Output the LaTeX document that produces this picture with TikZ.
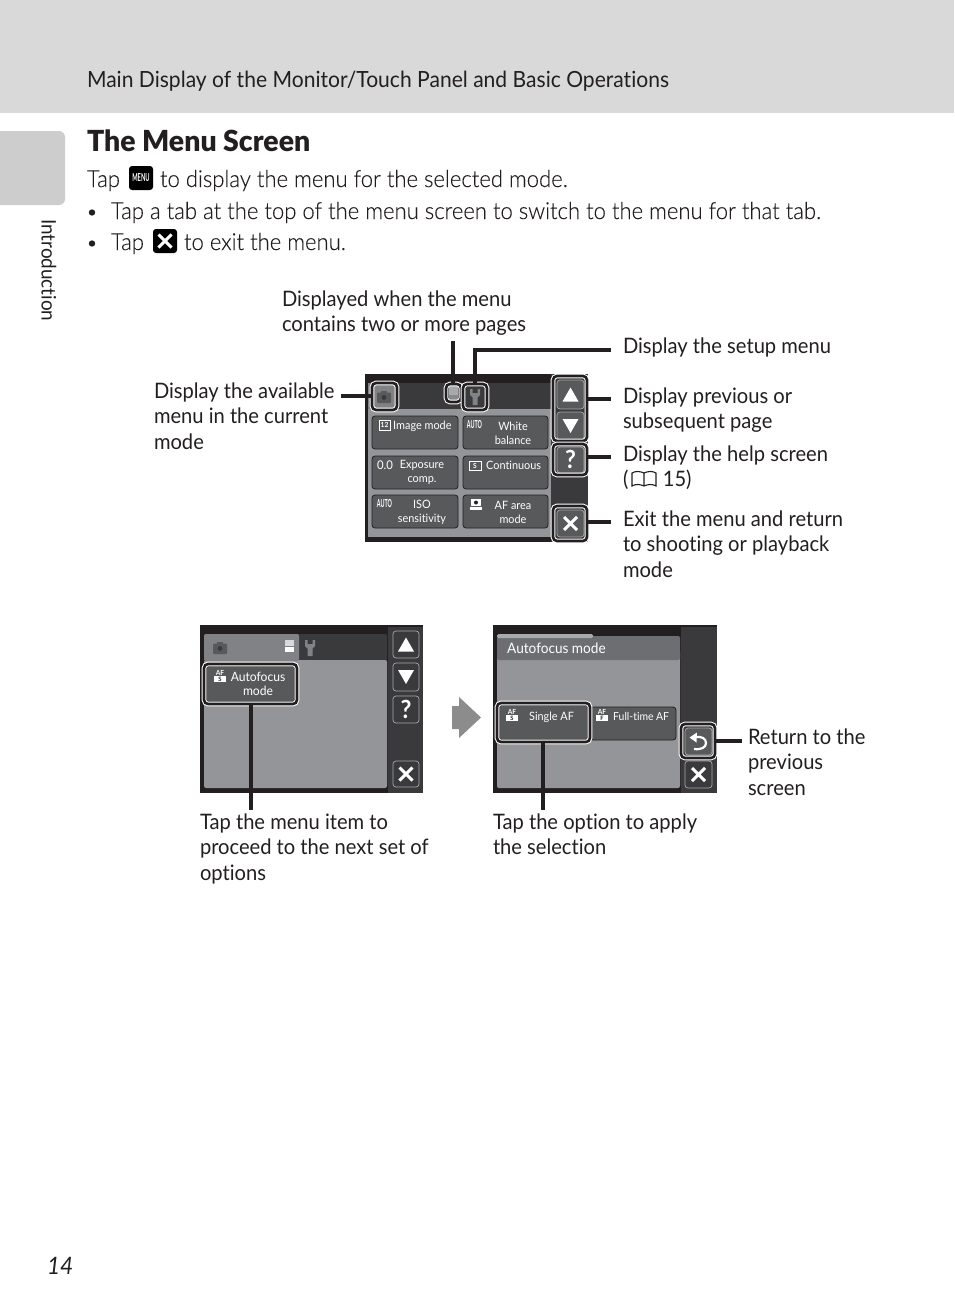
\documentclass[tikz,border=0pt]{standalone}
\usepackage{graphicx}
\usepackage{fontspec}
\setmainfont{Lato}[FakeStretch=0.945,Ligatures=NoCommon]
\newfontfamily\lightfont{Lato Light}[FakeStretch=0.943,FakeBold=0.15,Ligatures=NoCommon]
\newfontfamily\titlefont{Lato Black}[FakeStretch=0.98,Ligatures=NoCommon]
\definecolor{ink}{HTML}{231F20}
\definecolor{panel}{HTML}{939598}
\definecolor{darkcol}{HTML}{3A3A3C}
\definecolor{btnfill}{HTML}{58595B}
\definecolor{tabgray}{HTML}{808285}
\definecolor{bandgray}{HTML}{6D6E71}
\definecolor{headgray}{HTML}{D9D9D9}
\definecolor{sidegray}{HTML}{CDCDCD}
\definecolor{btnedge}{HTML}{A7A9AC}
\newcommand{\rbx}[6]{\node[#1,rectangle,inner sep=0pt,outer sep=0pt,anchor=north west,minimum width={(#5-#3)*1pt},minimum height={(#6-#4)*1pt}] (#2) at (#3,#4) {};}
\newcommand{\lab}[4]{\node[lab] (#1) at (#2,#3-15.3) {\rule{0pt}{16pt}#4};}
\newcommand{\tri}[4]{\fill[white] (#1-#3,#2-#4) -- (#1+#3,#2-#4) -- (#1,#2+#4) -- cycle;}
\newcommand{\xmark}[3]{\draw[white,line width=#3pt] (#1-6.5,#2-6.5) -- (#1+6.5,#2+6.5) (#1+6.5,#2-6.5) -- (#1-6.5,#2+6.5);}
\newcommand{\camera}[3]{\fill[#3,rounded corners=1pt] (#1-7,#2-4.5) rectangle (#1+7,#2+6); \fill[#3] (#1-3,#2-6.5) rectangle (#1+3,#2-3); \fill[darkcol] (#1,#2+.5) circle (2.4);}
\newcommand{\wrench}[3]{\fill[#3] (#1-5,#2-8) -- (#1-2.5,#2-8) -- (#1-2.5,#2-4) -- (#1+2.5,#2-4) -- (#1+2.5,#2-8) -- (#1+5,#2-8) -- (#1+5,#2-2) -- (#1+2.5,#2+.5) -- (#1+2.5,#2+8) -- (#1-2.5,#2+8) -- (#1-2.5,#2+.5) -- (#1-5,#2-2) -- cycle;}
\newcommand{\aficon}[3]{\node[tiny txt] at (#1,#2-3.5) {\fontsize{7}{7}\selectfont\bfseries AF}; \fill[white] (#1-6,#2) rectangle (#1+6,#2+6); \node[tiny txt,text=ink] at (#1,#2+3) {\fontsize{6}{6}\selectfont\bfseries #3};}
\newcommand{\autoic}{\scalebox{.52}[1]{\bfseries AUTO}}
\tikzset{x=1pt,y=-1pt,
 lab/.style={anchor=north west,align=left,inner sep=0pt,outer sep=0pt,text=ink,font=\fontsize{21.3}{25.2}\selectfont},
 body/.style={anchor=base west,inner sep=0pt,outer sep=0pt,text=ink,font=\lightfont\fontsize{23.4}{28}\selectfont},
 btxt/.style={text=white,inner sep=0pt,align=center,font=\fontsize{11.5}{14}\selectfont},
 tiny txt/.style={text=white,inner sep=0pt},
 mbtn/.style={fill=btnfill,draw=ink,line width=.8pt,rounded corners=3pt},
 sbtn/.style={fill=darkcol,draw=btnedge,line width=.7pt,rounded corners=3pt},
 hframe/.style={draw=ink,line width=2.6pt,rounded corners=4pt,preaction={draw=white,line width=4.6pt}},
 conn/.style={draw=ink,line width=3.2pt},
}
\begin{document}
\begin{tikzpicture}
\useasboundingbox (0,0) rectangle (954,1314);
\fill[white] (0,0) rectangle (954,1314);
% page furniture
\rbx{fill=headgray}{head}{0}{0}{954}{113}
\fill[sidegray,rounded corners=6pt] (-10,131) rectangle (65,205);
\node[body,font=\fontsize{22.3}{26}\selectfont] (headtxt) at (87,87) {Main Display of the Monitor/Touch Panel and Basic Operations};
\node[body,font=\titlefont\fontsize{29}{32}\selectfont] (title) at (87,151) {The Menu Screen};
\node[body] (t1) at (87,187) {Tap};
\rbx{fill=black,rounded corners=3pt}{menuic}{129}{166}{153}{190}
\node[tiny txt,font=\bfseries\fontsize{11}{11}\selectfont] (menut) at (141,178) {\scalebox{.55}[1]{MENU}};
\node[body] (t2) at (160,187) {to display the menu for the selected mode.};
\fill[ink] (92,212.5) circle (3.2);
\node[body] (t3) at (111,219) {Tap a tab at the top of the menu screen to switch to the menu for that tab.};
\fill[ink] (92,243.5) circle (3.2);
\node[body] (t4) at (111,250) {Tap};
\rbx{fill=black,rounded corners=3pt}{xic}{153}{229}{177}{253}
\xmark{165}{241}{3}
\node[body] (t5) at (184,250) {to exit the menu.};
\node[text=ink,inner sep=0pt,rotate=-90,anchor=west,font=\fontsize{20}{22}\selectfont] (side) at (49,219) {Introduction};
\node[body,font=\itshape\fontsize{24}{28}\selectfont] (pg) at (47,1274) {14};

% main screen
\rbx{fill=ink}{scr}{365}{374}{588}{542}
\rbx{fill=panel}{panA}{368}{409}{551}{537}
\rbx{fill=darkcol}{tabsA}{368}{383}{551}{409}
\rbx{fill=tabgray}{camA}{368}{383}{398}{409}
\rbx{fill=darkcol}{colA}{551}{374}{588}{542}
\rbx{mbtn}{b1}{372}{416}{458}{449}
\rbx{mbtn}{b2}{463}{416}{548}{449}
\rbx{mbtn}{b3}{372}{456}{458}{489}
\rbx{mbtn}{b4}{463}{456}{548}{489}
\rbx{mbtn}{b5}{372}{495}{458}{528}
\rbx{mbtn}{b6}{463}{495}{548}{528}
\node[btxt,anchor=west] (b1t) at (393,426) {Image mode};
\rbx{draw=white,line width=.8pt}{b1i}{379}{420}{390}{430}
\node[tiny txt,font=\bfseries\fontsize{7}{7}\selectfont] (b1n) at (384.5,425) {12};
\node[btxt] (b2t) at (513,433) {White\\balance};
\node[tiny txt,font=\fontsize{11}{11}\selectfont] (b2n) at (474.5,425) {\autoic};
\node[btxt] (b3t) at (422,472) {Exposure\\comp.};
\node[tiny txt,font=\fontsize{12}{12}\selectfont] (b3n) at (385,465) {0.0};
\node[btxt,anchor=west] (b4t) at (486,465) {Continuous};
\rbx{draw=white,line width=.8pt}{b4i}{469}{461}{481}{470}
\node[tiny txt,font=\bfseries\fontsize{7}{7}\selectfont] (b4n) at (475,465.5) {S};
\node[btxt] (b5t) at (422,512) {ISO\\sensitivity};
\node[tiny txt,font=\fontsize{11}{11}\selectfont] (b5n) at (384.5,504) {\autoic};
\node[btxt] (b6t) at (513,512) {AF area\\mode};
\fill[white] (471,499) rectangle (481,506);
\fill[white] (470,507) rectangle (482,510);
\fill[ink] (476,502.5) circle (2);
\camera{384}{397}{btnfill}
\fill[btnedge] (449,385) rectangle (458,395);
\fill[darkcol!60!white] (449,395) rectangle (458,400);
\wrench{475}{397}{tabgray}
\rbx{sbtn,fill=btnfill}{upA}{557}{380}{584}{409}
\tri{570.5}{394.5}{8}{-7}
\rbx{sbtn,fill=btnfill}{dnA}{557}{412}{584}{440}
\tri{570.5}{426}{8}{7}
\rbx{sbtn,fill=btnfill}{qA}{557}{447}{584}{473}
\node[tiny txt,font=\bfseries\fontsize{25}{25}\selectfont] (qAt) at (570.5,459.5) {?};
\rbx{sbtn,fill=btnfill}{xA}{557}{510}{584}{537}
\xmark{570.5}{523.5}{3}
% highlight frames
\rbx{hframe}{fCam}{372}{383}{397}{410}
\rbx{hframe}{fPg}{446}{384}{461}{402}
\rbx{hframe}{fWr}{463}{384}{487}{410}
\rbx{hframe}{fUD}{553}{376}{587}{441}
\rbx{hframe}{fQ}{553}{444}{587}{475}
\rbx{hframe}{fX}{553}{506}{587}{541}
% connectors main
\coordinate (cCam) at (341,396);
\coordinate (cPg) at (453,341);
\coordinate (cWrK) at (475,350);
\coordinate (cWr) at (611,350);
\coordinate (cUD) at (611,399);
\coordinate (cQ) at (611,457);
\coordinate (cX) at (611,522);
\draw[conn] (cCam) -- (fCam.west |- cCam);
\draw[conn] (cPg) -- (fPg.north -| cPg);
\draw[conn] (fWr.north -| cWrK) -- (cWrK) -- (cWr);
\draw[conn] (fUD.east |- cUD) -- (cUD);
\draw[conn] (fQ.east |- cQ) -- (cQ);
\draw[conn] (fX.east |- cX) -- (cX);
% labels main
\lab{l1}{282}{306}{Displayed when the menu\\contains two or more pages}
\lab{l2}{623}{353}{Display the setup menu}
\lab{l3}{154}{398}{Display the available\\menu in the current\\mode}
\lab{l4}{623}{403}{Display previous or\\subsequent page}
\lab{l5}{623}{461}{Display the help screen\\(\hspace{34.5pt}15)}
\draw[ink,line width=1.1pt] (644,473) .. controls (640,471) and (635,471) .. (632,473) -- (632,486) .. controls (635,484) and (640,484) .. (644,486) .. controls (648,484) and (653,484) .. (656,486) -- (656,473) .. controls (653,471) and (648,471) .. (644,473) -- (644,486);
\lab{l6}{623}{526}{Exit the menu and return\\to shooting or playback\\mode}

% left lower screen
\rbx{fill=ink}{scrB}{200}{625}{423}{793}
\rbx{fill=darkcol}{colB}{388}{627}{423}{793}
\rbx{fill=darkcol,rounded corners=2pt}{tabsB}{204}{634}{387}{665}
\rbx{fill=panel,rounded corners=2pt}{panB}{204}{660}{387}{788}
\rbx{fill=tabgray,rounded corners=2pt}{tabB}{204}{634}{299}{661}
\camera{220}{648}{btnfill}
\fill[white!85!black] (285,640) rectangle (294,646);
\fill[white] (285,647) rectangle (294,652);
\wrench{310}{648}{tabgray}
\rbx{sbtn}{upB}{393}{631}{419}{658}
\tri{406}{644.5}{8}{-7}
\rbx{sbtn}{dnB}{393}{663}{419}{691}
\tri{406}{677}{8}{7}
\rbx{sbtn}{qB}{393}{696}{419}{723}
\node[tiny txt,font=\bfseries\fontsize{25}{25}\selectfont] (qBt) at (406,709.5) {?};
\rbx{sbtn}{xB}{393}{761}{419}{787}
\xmark{406}{774}{3}
\rbx{mbtn}{itemB}{206}{666}{295}{702}
\node[btxt,font=\fontsize{12.8}{14.5}\selectfont,anchor=center] (itemBt) at (258,684) {Autofocus\\mode};
\aficon{220}{676}{S}
\rbx{hframe}{fItem}{204}{664}{297}{704}
\coordinate (cItem) at (251,810);
\draw[conn] (fItem.south -| cItem) -- (cItem);

% arrow
\fill[black!45,rounded corners=.3pt] (452,706) -- (459,706) -- (459,697) -- (481,717.5) -- (459,738) -- (459,729) -- (452,729) -- cycle;

% right lower screen
\rbx{fill=ink}{scrC}{493}{625}{717}{793}
\rbx{fill=darkcol}{colC}{681}{627}{717}{793}
\rbx{fill=panel,rounded corners=2pt}{panC}{497}{650}{680}{788}
\rbx{fill=bandgray,rounded corners=2pt}{bandC}{497}{636}{680}{660}
\rbx{fill=btnedge,rounded corners=1.5pt}{tabC}{497}{634}{593}{638}
\node[btxt,anchor=base west,font=\fontsize{14.4}{16}\selectfont] (bandt) at (507,653) {Autofocus mode};
\rbx{mbtn}{optS}{499}{705}{588}{740}
\rbx{mbtn}{optF}{590}{707}{676}{740}
\node[btxt,anchor=base west,font=\fontsize{11.5}{14}\selectfont] (optSt) at (529,720) {Single AF};
\node[btxt,anchor=base west,font=\fontsize{11}{14}\selectfont] (optFt) at (613,720) {Full-time AF};
\aficon{512}{715}{S}
\aficon{602}{715}{F}
\rbx{sbtn,fill=btnfill}{backC}{685}{728}{712}{755}
\draw[white,line width=2.2pt] (695,737.5) .. controls (702,735.5) and (706,739) .. (706,743) .. controls (706,747) and (702,750) .. (694,749);
\fill[white] (689.5,737.5) -- (697,732.5) -- (696.5,742.5) -- cycle;
\rbx{sbtn}{xC}{685}{761}{712}{788}
\xmark{698.5}{774.5}{3}
\rbx{hframe}{fOpt}{497}{703}{590}{742}
\rbx{hframe}{fBack}{681}{724}{715}{758}
\coordinate (cOpt) at (543,810);
\coordinate (cBack) at (742,741);
\draw[conn] (fOpt.south -| cOpt) -- (cOpt);
\draw[conn] (fBack.east |- cBack) -- (cBack);
\lab{l7}{200}{829}{Tap the menu item to\\proceed to the next set of\\options}
\lab{l8}{493}{829}{Tap the option to apply\\the selection}
\lab{l9}{748}{744}{Return to the\\previous\\screen}
\end{tikzpicture}
\end{document}
